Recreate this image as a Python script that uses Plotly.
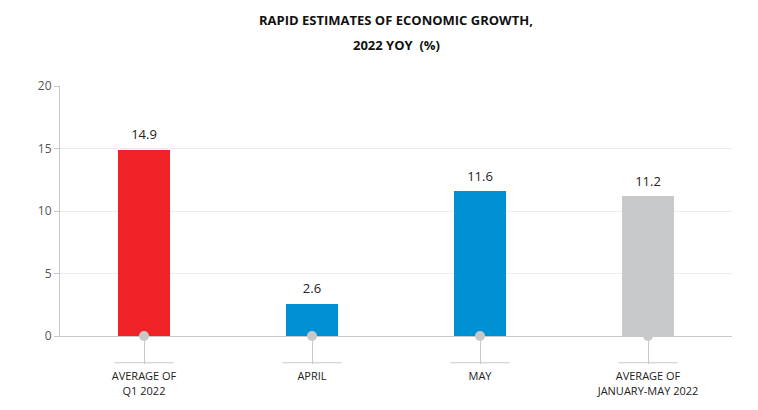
import plotly.graph_objects as go

categories = ["AVERAGE OF<br>Q1 2022", "APRIL", "MAY", "AVERAGE OF<br>JANUARY-MAY 2022"]
values = [14.9, 2.6, 11.6, 11.2]
labels = ["14.9", "2.6", "11.6", "11.2"]
colors = ["#ee2227", "#0091d5", "#0091d5", "#c8c9cb"]
y_ticks = [0, 5, 10, 15, 20]
title_lines = ["RAPID ESTIMATES OF ECONOMIC GROWTH,", "2022 YOY  (%)"]

font_family = "Open Sans, Noto Sans, sans-serif"

fig = go.Figure()
fig.add_trace(go.Bar(
    x=categories, y=values, marker_color=colors, marker_line_width=0,
    width=0.315, hoverinfo="skip",
))
fig.add_trace(go.Scatter(
    x=categories, y=values, mode="markers+text", text=labels,
    textposition="top center",
    marker=dict(size=10, color="rgba(0,0,0,0)"),
    textfont=dict(size=13, color="#222222", family=font_family),
    cliponaxis=False, hoverinfo="skip",
))
fig.add_trace(go.Scatter(
    x=categories, y=[0] * len(categories), mode="markers",
    marker=dict(size=10, color="#c8c8c8"), cliponaxis=False, hoverinfo="skip",
))

shapes = []
for i in range(len(categories)):
    shapes.append(dict(type="line", xref="x", yref="paper",
                       x0=i - 0.176, x1=i + 0.176, y0=-0.107, y1=-0.107,
                       line=dict(color="#c8c8c8", width=1)))

annotations = []
for k, line in enumerate(title_lines):
    annotations.append(dict(text="<b>" + line + "</b>", xref="paper", yref="paper",
                            x=0.5, y=1.0, yshift=66 - 25 * k, showarrow=False,
                            xanchor="center", yanchor="middle",
                            font=dict(size=13, color="#111111", family=font_family)))

fig.update_layout(
    width=750, height=402,
    margin=dict(l=52, r=26, t=78, b=70),
    paper_bgcolor="white", plot_bgcolor="white",
    showlegend=False,
    shapes=shapes,
    annotations=annotations,
    bargap=0,
)
fig.update_xaxes(
    type="category", range=[-0.5, 3.5],
    showline=True, linecolor="#c8c8c8", linewidth=1,
    ticks="outside", ticklen=27, tickcolor="#c8c8c8", tickwidth=1,
    ticklabelstandoff=3,
    tickfont=dict(size=11, color="#222222", family=font_family),
    showgrid=False, zeroline=False,
)
fig.update_yaxes(
    range=[0, 20], tickvals=y_ticks, ticktext=[str(v) for v in y_ticks],
    showline=True, linecolor="#c8c8c8", linewidth=1,
    ticks="outside", ticklen=5, tickcolor="#c8c8c8",
    gridcolor="#ececec", gridwidth=1, zeroline=False,
    tickfont=dict(size=12, color="#555555", family=font_family),
)

fig.write_html("out.html")
